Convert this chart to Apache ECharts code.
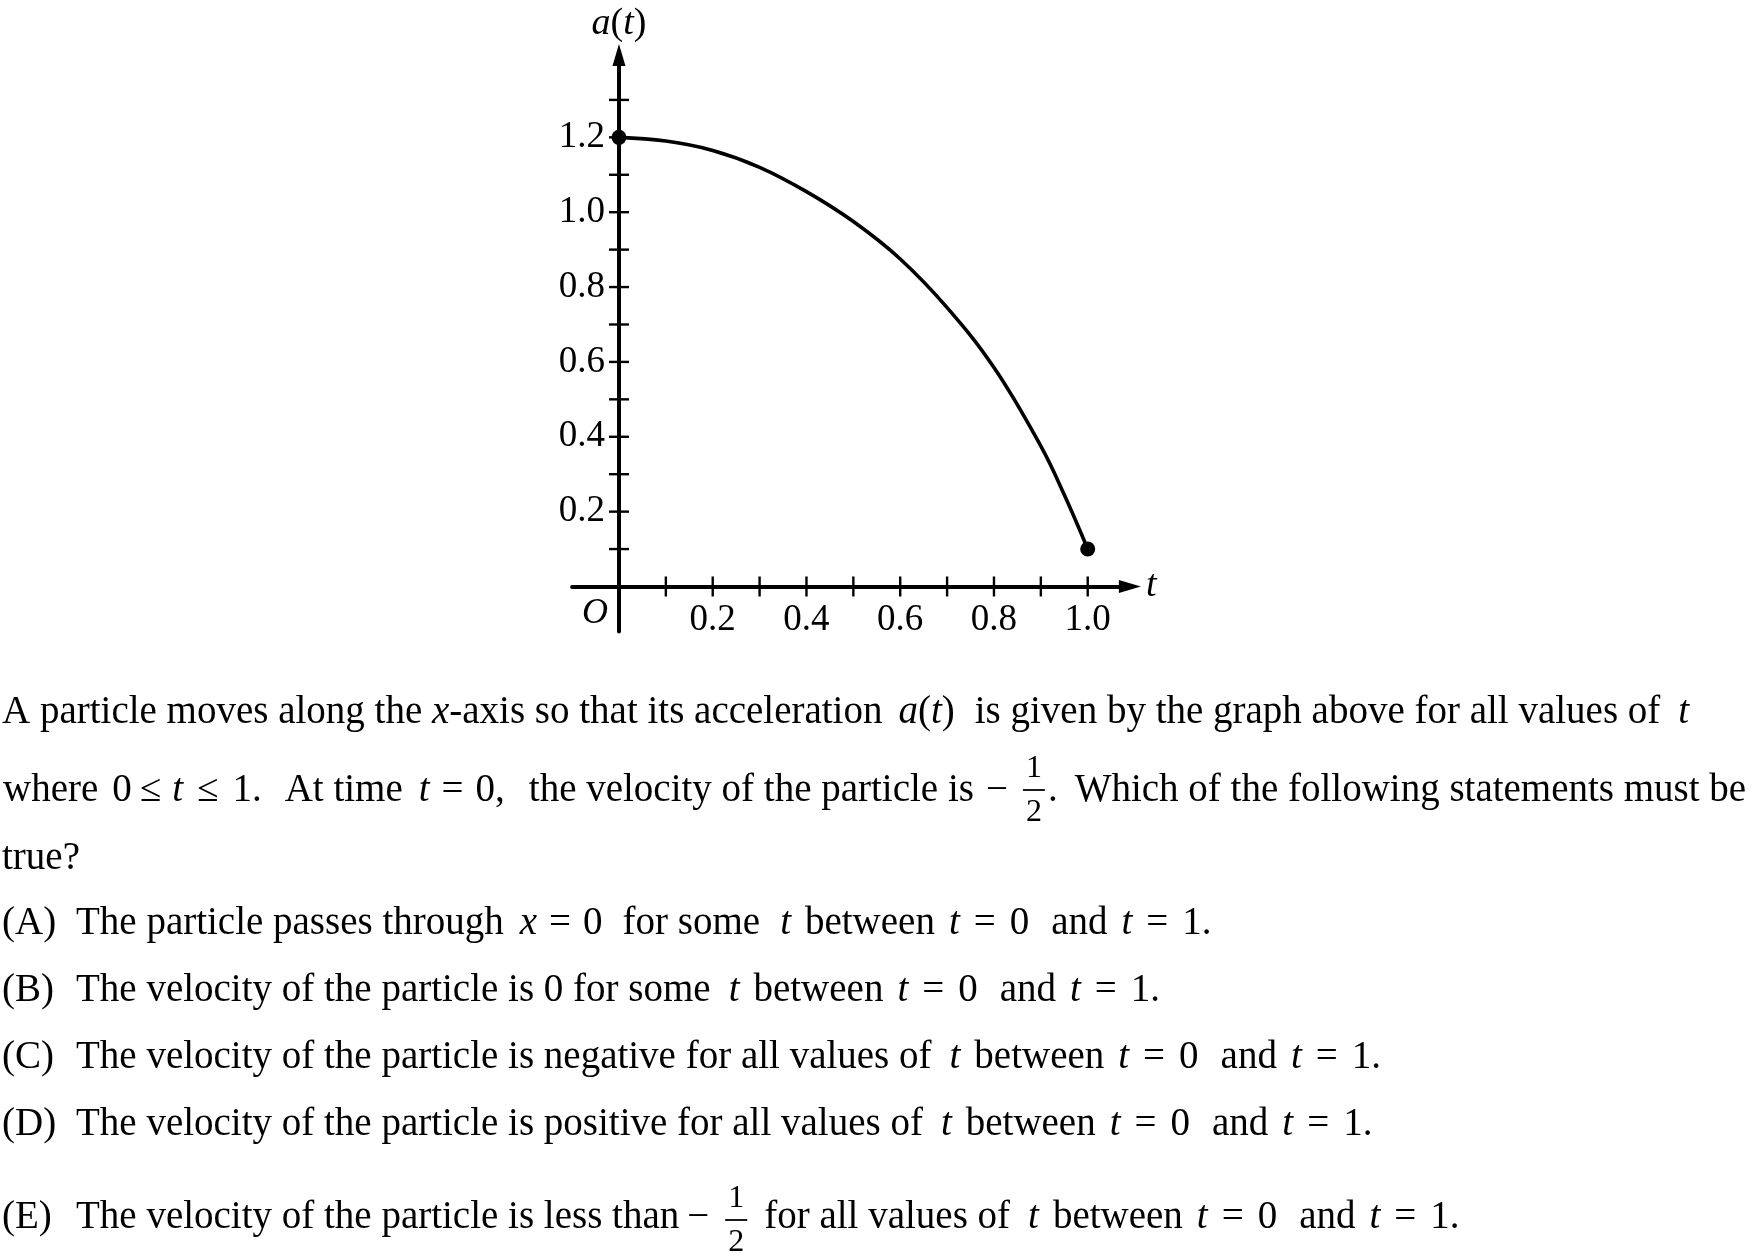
<!DOCTYPE html>
<html><head><meta charset="utf-8">
<script src="https://cdn.jsdelivr.net/npm/echarts@6/dist/echarts.min.js"></script>
<style>html,body{margin:0;padding:0;background:#fff}#c{width:1756px;height:1254px}</style>
</head><body><div id="c"></div>
<script>
// ---- data ----
const tValues = [0, 0.1, 0.2, 0.3, 0.4, 0.5, 0.6, 0.7, 0.8, 0.9, 0.95, 1.0];
const aValues = [1.2, 1.19, 1.165, 1.12, 1.055, 0.975, 0.875, 0.745, 0.585, 0.375, 0.245, 0.1];
const endpointT = [0, 1.0];
const endpointA = [1.2, 0.1];
const xTickValues = [0.1, 0.2, 0.3, 0.4, 0.5, 0.6, 0.7, 0.8, 0.9, 1.0];
const yTickValues = [0.1, 0.2, 0.3, 0.4, 0.5, 0.6, 0.7, 0.8, 0.9, 1.0, 1.1, 1.2, 1.3];
const xLabelValues = [0.2, 0.4, 0.6, 0.8, 1.0];
const yLabelValues = [0.2, 0.4, 0.6, 0.8, 1.0, 1.2];

const FAM = '"Liberation Serif", "Times New Roman", serif';
const chart = echarts.init(document.getElementById('c'), null, {renderer: 'canvas'});

// ---- text layout helpers ----
const mctx = document.createElement('canvas').getContext('2d');
function fontStr(it, size) { return (it ? 'italic ' : '') + size + 'px ' + FAM; }
function tw(text, it, size) { mctx.font = fontStr(it, size); return mctx.measureText(text).width; }
const els = [];
function txt(x, base, text, it, size, align) {
  size = size || 39;
  els.push({type: 'text', x: x, y: base - size * 0.33, silent: true,
    style: {text: text, font: fontStr(it, size), fill: '#000',
      align: align || 'left', verticalAlign: 'middle',
      textAlign: align || 'left', textVerticalAlign: 'middle'}});
}
function run(x, base, items) {
  for (const it of items) {
    x += it[0];
    txt(x, base, it[1], it[2]);
    x += tw(it[1], it[2], 39);
  }
  return x;
}
function frac(cx, barY) {
  txt(cx, barY - 21 + 32 * 0.33, '1', false, 32, 'center');
  txt(cx, barY + 23 + 32 * 0.33, '2', false, 32, 'center');
  els.push({type: 'line', silent: true, shape: {x1: cx - 11, y1: barY, x2: cx + 11, y2: barY},
    style: {stroke: '#000', lineWidth: 1.8}});
}

// line 1
run(2, 726, [[0, 'A particle moves along the ', 0], [0, 'x', 1], [0, '-axis so that its acceleration', 0],
  [16, 'a', 1], [0, '(', 0], [0, 't', 1], [0, ')', 0],
  [20, 'is given by the graph above for all values of', 0], [18, 't', 1]]);
// line 2
let x2 = run(3, 804, [[0, 'where', 0], [14, '0', 0], [8, '\u2264', 0], [11, 't', 1], [14, '\u2264', 0], [14, '1.', 0],
  [23, 'At time', 0], [16, 't', 1], [12, '=', 0], [12, '0,', 0],
  [24, 'the velocity of the particle is', 0], [12, '\u2212', 0]]);
frac(x2 + 26, 790);
run(x2 + 40, 804, [[0, '.', 0], [17, 'Which of the following statements must be', 0]]);
// line 3
run(2, 872, [[0, 'true?', 0]]);

const tail = [[14, 't', 1], [14, '=', 0], [14, '0', 0], [22, 'and', 0], [14, 't', 1], [14, '=', 0], [14, '1.', 0]];
// (A)
run(2, 937, [[0, '(A)', 0]]);
run(76, 937, [[0, 'The particle passes through', 0], [16, 'x', 1], [12, '=', 0], [12, '0', 0],
  [20, 'for some', 0], [20, 't', 1], [14, 'between', 0]].concat(tail));
// (B)
run(2, 1004, [[0, '(B)', 0]]);
run(76, 1004, [[0, 'The velocity of the particle is 0 for some', 0], [18, 't', 1], [14, 'between', 0]].concat(tail));
// (C)
run(2, 1071, [[0, '(C)', 0]]);
run(76, 1071, [[0, 'The velocity of the particle is negative for all values of', 0], [18, 't', 1], [14, 'between', 0]].concat(tail));
// (D)
run(2, 1138, [[0, '(D)', 0]]);
run(76, 1138, [[0, 'The velocity of the particle is positive for all values of', 0], [18, 't', 1], [14, 'between', 0]].concat(tail));
// (E)
run(2, 1231, [[0, '(E)', 0]]);
let xe = run(76, 1231, [[0, 'The velocity of the particle is less than', 0], [8, '\u2212', 0]]);
frac(xe + 27, 1220);
run(xe + 55, 1231, [[0, 'for all values of', 0], [18, 't', 1], [14, 'between', 0]].concat(tail));

// origin label
els.push({type: 'text', x: 595, y: 614, silent: true,
  style: {text: 'O', font: fontStr(true, 36), fill: '#000', align: 'center', verticalAlign: 'middle',
    textAlign: 'center', textVerticalAlign: 'middle'}});

const labelStyle = {fontSize: 37, fontFamily: FAM, color: '#000'};

const option = {
  animation: false,
  backgroundColor: '#fff',
  grid: {left: 572.1, width: 557.8, top: 55, height: 576.4},
  xAxis: {
    type: 'value', min: -0.1, max: 1.09,
    axisLine: {onZero: true, lineStyle: {color: '#000', width: 4}, symbol: ['none', 'triangle'], symbolSize: [13, 22]},
    axisTick: {show: false},
    splitLine: {show: false},
    axisLabel: Object.assign({customValues: xLabelValues, formatter: v => v.toFixed(1), margin: -30}, labelStyle),
    name: 't', nameLocation: 'end', nameGap: 16,
    nameTextStyle: {fontStyle: 'italic', fontSize: 38, fontFamily: FAM, color: '#000'}
  },
  yAxis: {
    type: 'value', min: -0.12, max: 1.42,
    axisLine: {onZero: true, lineStyle: {color: '#000', width: 4}, symbol: ['none', 'triangle'], symbolSize: [13, 22]},
    axisTick: {show: false},
    splitLine: {show: false},
    axisLabel: Object.assign({customValues: yLabelValues, formatter: v => v.toFixed(1), margin: -33}, labelStyle),
    name: '{i|a}({i|t})', nameLocation: 'end', nameGap: 12,
    nameTextStyle: {fontSize: 38, fontFamily: FAM, color: '#000',
      rich: {i: {fontStyle: 'italic', fontSize: 38, fontFamily: FAM, color: '#000'}}}
  },
  series: [
    {type: 'scatter', data: xTickValues.map(v => [v, 0]), symbol: 'rect', symbolSize: [2.4, 20],
      itemStyle: {color: '#000', opacity: 1}, silent: true, z: 3},
    {type: 'scatter', data: yTickValues.map(v => [0, v]), symbol: 'rect', symbolSize: [20, 2.4],
      itemStyle: {color: '#000', opacity: 1}, silent: true, z: 3},
    {type: 'line', data: tValues.map((t, i) => [t, aValues[i]]), smooth: 0.4, showSymbol: false,
      lineStyle: {color: '#000', width: 3.6}, z: 4},
    {type: 'scatter', data: endpointT.map((t, i) => [t, endpointA[i]]), symbol: 'circle', symbolSize: 15,
      itemStyle: {color: '#000', opacity: 1}, z: 5}
  ],
  graphic: {elements: els}
};
chart.setOption(option);
</script>
</body></html>
